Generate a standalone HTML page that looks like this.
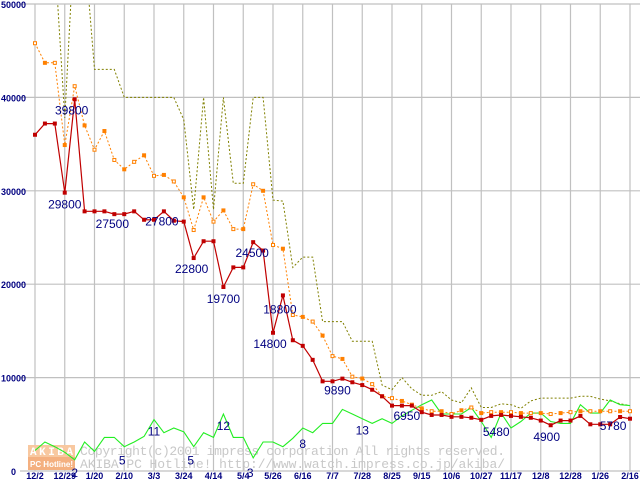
<!DOCTYPE html>
<html><head><meta charset="utf-8"><style>
body{margin:0;background:#fff;}
svg{display:block;font-family:"Liberation Sans",sans-serif;}
</style></head><body>
<svg id="c" width="640" height="480" viewBox="0 0 640 480">
<defs><clipPath id="pc"><rect x="0" y="4" width="640" height="470"/></clipPath></defs>
<g id="grid"></g>
<g id="wm">
<rect x="28" y="445" width="47" height="12" fill="#f8c8a0"/>
<rect x="28" y="457" width="47" height="13" fill="#f4b080"/>
<text x="30" y="455" font-size="11" font-weight="bold" fill="#fff" textLength="43" font-family="Liberation Mono,monospace">AKIBA</text>
<text x="30" y="467" font-size="8" font-weight="bold" fill="#fff" textLength="43">PC Hotline!</text>
<text x="80" y="455" font-size="13" fill="#c8c8c8" font-family="Liberation Mono,monospace" textLength="425">Copyright(c)2001 impress corporation All rights reserved.</text>
<text x="80" y="468" font-size="13" fill="#c8c8c8" font-family="Liberation Mono,monospace" textLength="425">AKIBA PC Hotline!  http://www.watch.impress.co.jp/akiba/</text>
</g>
<g id="series" clip-path="url(#pc)"></g>
<g id="labels"></g>
</svg>
<script>
const categories=["12/2","12/29","1/20","2/10","3/3","3/24","4/14","5/4","5/26","6/16","7/7","7/28","8/25","9/15","10/6","10/27","11/17","12/8","12/28","1/26","2/16"];
const yTicks=[0,10000,20000,30000,40000,50000];
const redVals=[36000,37200,37200,29800,39800,27800,27800,27800,27500,27500,27800,26900,26900,27800,26800,26700,22800,24600,24600,19700,21800,21800,24500,23600,14800,18800,14000,13400,11900,9600,9600,9890,9500,9200,8700,8000,7000,7000,7000,6300,6000,6000,5800,5800,5700,5480,5900,6000,5900,5800,5700,5400,4900,5400,5400,5900,5000,5000,5000,5780,5600];
const orangeVals=[45800,43700,43700,34900,41200,37000,34400,36400,33300,32300,33100,33800,31600,31700,31000,29300,25800,29300,26700,27900,25900,25900,30700,30000,24200,23800,16700,16500,16000,14500,12300,12000,10100,9900,9300,8000,7800,7500,7100,6700,6400,6400,6100,6500,6800,6200,6300,6300,6300,6200,6200,6200,6100,6200,6300,6400,6400,6400,6400,6400,6400];
const oliveVals=[null,null,55000,37800,58000,56000,43000,43000,43000,40000,40000,40000,40000,40000,40000,37600,28000,40000,28000,40000,30800,30800,40000,40000,29000,28900,21800,22900,22900,16000,16000,16000,13900,13900,13900,9200,8700,10000,8800,8100,8100,8500,7600,7300,8900,6800,6800,7200,7100,6700,7500,7800,7800,7800,7800,8000,8000,7700,7500,7200,7000];
const greenVals=[2200,3100,2600,2000,1200,3100,2100,3600,3600,2600,3100,3700,5500,4100,4600,4200,2600,4100,3600,6100,3600,3600,1400,3100,3100,2600,3500,4600,4100,5100,5100,6600,6100,5600,5100,5600,5100,5900,6500,7100,7600,6100,6100,6100,6800,5300,3600,6200,4600,5300,6200,6200,5300,5100,5100,7100,6200,6200,7600,7100,7000];
const priceNotes=[[4,39800,"39800",-3,11],[3,29800,"29800",0,12],[8,27500,"27500",-2,10],[13,27800,"27800",-2,10],[16,22800,"22800",-2,11],[19,19700,"19700",0,12],[22,24500,"24500",-1,11],[25,18800,"18800",-3,14],[24,14800,"14800",-3,11],[31,9890,"9890",-5,12],[38,6950,"6950",-5,10],[45,5480,"5480",15,12],[52,4900,"4900",-4,12],[59,5780,"5780",-7,9]];
const countNotes=[[12,5500,"11",0,12],[19,6100,"12",0,12],[33,5600,"13",0,12],[27,4600,"8",0,16],[9,2600,"5",-2,14],[16,2600,"5",-3,14],[22,1400,"3",-3,15],[4,1200,"2",0,13]];

const NS="http://www.w3.org/2000/svg";
const X0=35,X1=630,Y0=471,Y1=4;
const xi=i=>X0+i*(X1-X0)/60;
const yv=v=>Y0-(v/50000)*(Y0-Y1);
function mk(tag,at,parent){const e=document.createElementNS(NS,tag);for(const k in at)e.setAttribute(k,at[k]);parent.appendChild(e);return e;}
const grid=document.getElementById('grid'),ser=document.getElementById('series'),lab=document.getElementById('labels');
yTicks.forEach(t=>{
  const l=mk('line',{x1:20,x2:640,y1:yv(t),y2:yv(t),stroke:'#c0c0c0','stroke-width':1.2},grid);
  
  
  const tx=mk('text',{x:t===0?11:1,y:yv(t)+4,'font-size':9,'font-weight':'bold',fill:'#000080'},lab);
  tx.textContent=String(t);
  
  
});
categories.forEach((c,k)=>{
  const x=xi(k*3);
  const l=mk('line',{x1:x,x2:x,y1:Y1,y2:Y0,stroke:'#c0c0c0','stroke-width':1.2},grid);
  
  
  const tx=mk('text',{x:x,y:479,'font-size':9,'font-weight':'bold',fill:'#000080','text-anchor':'middle'},lab);
  tx.textContent=c;
  
  
});
function pathOf(vals){let d='',pen=false;vals.forEach((v,i)=>{if(v==null){pen=false;return;}d+=(pen?'L':'M')+xi(i).toFixed(1)+','+yv(v).toFixed(1);pen=true;});return d;}
const olive=mk('path',{d:pathOf(oliveVals),fill:'none',stroke:'#808000','stroke-width':1,'stroke-dasharray':'2,2'},ser);


const green=mk('path',{d:pathOf(greenVals),fill:'none',stroke:'#22ee22','stroke-width':1.1},ser);


const orange=mk('path',{d:pathOf(orangeVals),fill:'none',stroke:'#ff8000','stroke-width':1,'stroke-dasharray':'2,2'},ser);


orangeVals.forEach((v,i)=>{
  const r=mk('rect',{x:xi(i)-1.5,y:yv(v)-1.5,width:3,height:3,fill:i%2?'#ff8000':'#fff',stroke:'#ff8000','stroke-width':1},ser);
  
  
});
const red=mk('path',{d:pathOf(redVals),fill:'none',stroke:'#c00000','stroke-width':1.2},ser);


redVals.forEach((v,i)=>{
  const r=mk('rect',{x:xi(i)-2,y:yv(v)-2,width:4,height:4,fill:'#c00000'},ser);
  
  
});
priceNotes.concat(countNotes).forEach(n=>{
  const tx=mk('text',{x:xi(n[0])+n[3],y:yv(n[1])+n[4]+4,'font-size':12,fill:'#000080','text-anchor':'middle'},lab);
  tx.textContent=n[2];
  
  
});
</script>
</body></html>
